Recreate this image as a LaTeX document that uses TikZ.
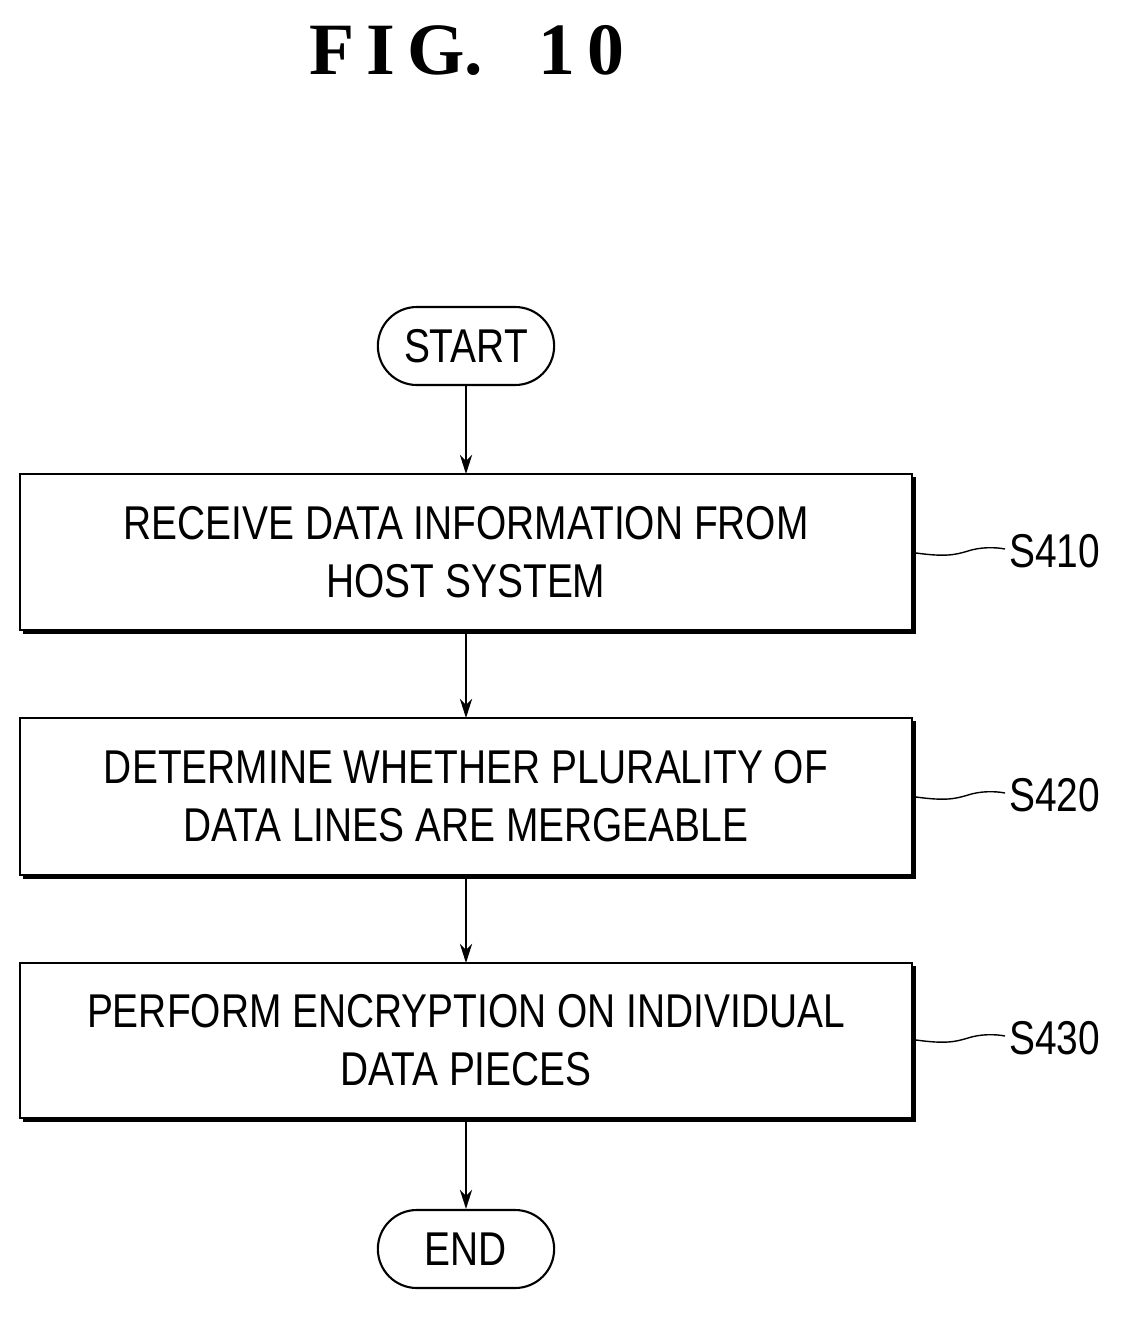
\documentclass[tikz,border=0pt]{standalone}
\usepackage{fontspec}
\setmainfont{Liberation Sans}[FakeStretch=0.82]
\newfontfamily\titlefont{Liberation Serif}
\usetikzlibrary{arrows.meta,shapes.misc}
\begin{document}
\begin{tikzpicture}[x=0.02cm,y=-0.02cm,
  term/.style={draw,line width=1.2pt,rounded rectangle,minimum width=188*0.02cm,minimum height=78*0.02cm,font=\fontsize{27}{29}\selectfont},
  arr/.style={-{Stealth[length=11pt,width=7pt]},line width=1pt},
  lab/.style={font=\fontsize{27}{29}\selectfont,anchor=west}]
\useasboundingbox (0,0) rectangle (1122,1320);
\node[font=\titlefont\bfseries\fontsize{42}{46}\selectfont] (title) at (467,50) {F\,I\,G.\ \ \ 1\,0};
\newcommand\stepbox[4]{%
 \draw[line width=1.2pt] (20,#1) rectangle (912,#2);
 \draw[line width=2.5pt] (914,#1+3) -- (914,#2+2) -- (23,#2+2);
 \coordinate (#3) at (466,{(#1+#2)/2});
 \node[align=center,font=\fontsize{27}{33}\selectfont] at (#3) {#4};}
\node[term] (start) at (466,346) {START};
\stepbox{474}{630}{b1}{RECEIVE DATA INFORMATION FROM\\HOST SYSTEM}
\stepbox{718}{875}{b2}{DETERMINE WHETHER PLURALITY OF\\DATA LINES ARE MERGEABLE}
\stepbox{963}{1118}{b3}{PERFORM ENCRYPTION ON INDIVIDUAL\\DATA PIECES}
\node[term] (end) at (466,1249) {END};
\coordinate (b1t) at (466,474); \coordinate (b1b) at (466,632);
\coordinate (b2t) at (466,718); \coordinate (b2b) at (466,877);
\coordinate (b3t) at (466,963); \coordinate (b3b) at (466,1120);
\draw[arr] (start.south) -- (b1t);
\draw[arr] (b1b) -- (b2t);
\draw[arr] (b2b) -- (b3t);
\draw[arr] (b3b) -- (end.north);
\foreach \y/\t in {553/S410,797/S420,1040/S430}{
 \coordinate (l) at (916,\y);
 \draw[line width=0.8pt] (l) .. controls (945,\y+4) and (955,\y+2) .. (968,\y-2) .. controls (980,\y-6) and (995,\y-6) .. (1005,\y-4);
 \node[lab] at (1003,\y-2) {\t};}
\end{tikzpicture}
\end{document}
